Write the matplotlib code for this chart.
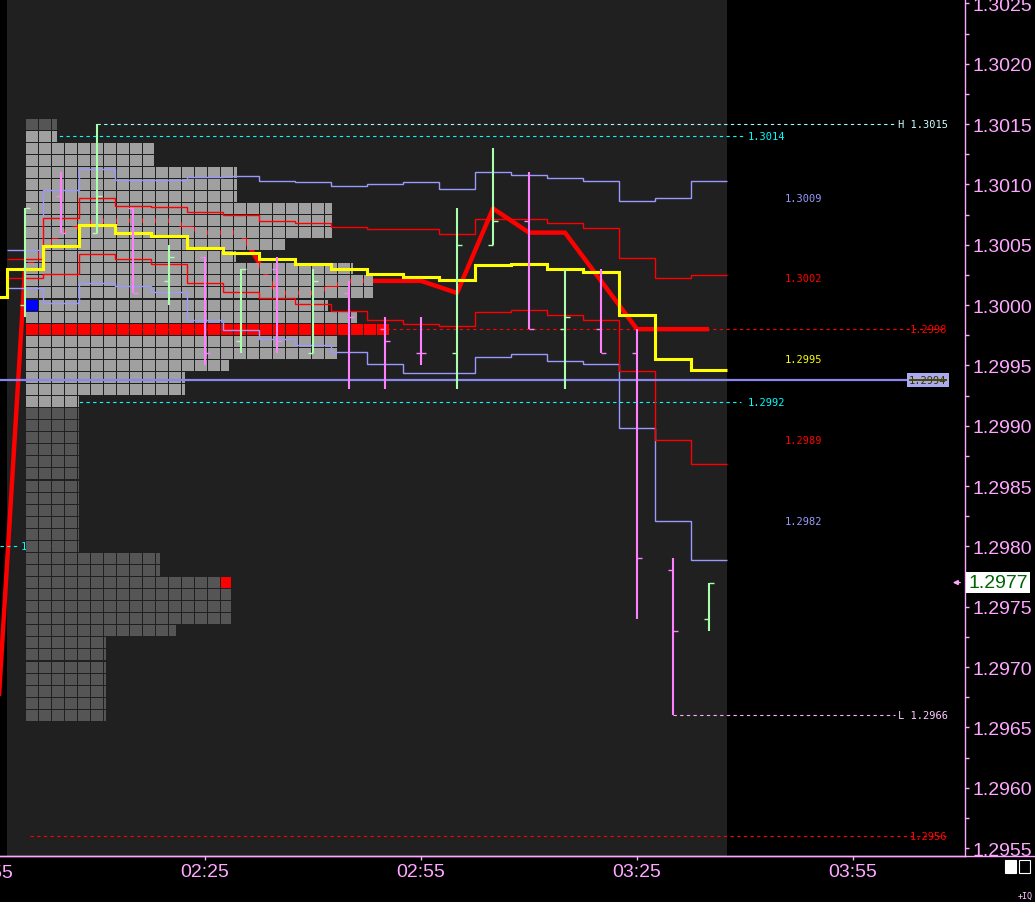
import numpy as np
import matplotlib
matplotlib.use("Agg")
import matplotlib.pyplot as plt
import matplotlib.transforms as mtransforms
from matplotlib.patches import Rectangle
from matplotlib.ticker import FixedLocator, FuncFormatter, MultipleLocator

plt.rcParams['font.family'] = ['Liberation Sans', 'DejaVu Sans']

# ---------------- data ----------------
# 5 minute bars, time as minutes after 00:00 (02:00 .. 03:35)
bar_times = [120, 125, 130, 135, 140, 145, 150, 155, 160, 165,
             170, 175, 180, 185, 190, 195, 200, 205, 210, 215]
opens = [1.3000, 1.3009, 1.3006, 1.3008, 1.3002, 1.3004, 1.2997, 1.3003, 1.2996, 1.3001,
         1.2998, 1.2996, 1.2996, 1.3005, 1.3007, 1.2998, 1.2998, 1.2996, 1.2978, 1.2974]
highs = [1.3008, 1.3011, 1.3015, 1.3008, 1.3005, 1.3004, 1.3003, 1.3004, 1.3003, 1.3002,
         1.2999, 1.2999, 1.3008, 1.3013, 1.3011, 1.3003, 1.3003, 1.2998, 1.2979, 1.2977]
lows = [1.2999, 1.3006, 1.3006, 1.3001, 1.3000, 1.2995, 1.2996, 1.2996, 1.2996, 1.2993,
        1.2993, 1.2995, 1.2993, 1.3005, 1.2998, 1.2993, 1.2996, 1.2974, 1.2966, 1.2973]
closes = [1.3008, 1.3006, 1.3009, 1.3001, 1.3004, 1.2996, 1.3003, 1.2997, 1.3002, 1.2999,
          1.2997, 1.2996, 1.3005, 1.3007, 1.2998, 1.2999, 1.2996, 1.2979, 1.2973, 1.2977]

# vwap and developing poc include the 01:55 bar of the previous session
line_times = [115] + bar_times
vwap = [1.30007, 1.30030, 1.30049, 1.30066, 1.30060, 1.30057, 1.30047, 1.30043, 1.30038,
        1.30034, 1.30030, 1.30026, 1.30023, 1.30021, 1.30033, 1.30034, 1.30030, 1.30027,
        1.29992, 1.29955, 1.29946]
dev_poc = [1.2954, 1.3003, 1.3006, 1.3007, 1.3007, 1.3007, 1.3006, 1.3006, 1.3001, 1.3001,
           1.3002, 1.3002, 1.3002, 1.3001, 1.3008, 1.3006, 1.3006, 1.3002, 1.2998, 1.2998,
           1.2998]

band1_up = [1.30038, 1.30072, 1.30089, 1.30082, 1.30081, 1.30077, 1.30075, 1.30070, 1.30068,
            1.30065, 1.30063, 1.30063, 1.30059, 1.30071, 1.30071, 1.30068, 1.30064, 1.30039,
            1.30022, 1.30025]
band1_dn = [1.30022, 1.30026, 1.30042, 1.30038, 1.30034, 1.30018, 1.30011, 1.30006, 1.30001,
            1.29995, 1.29988, 1.29984, 1.29983, 1.29994, 1.29996, 1.29992, 1.29988, 1.29945,
            1.29888, 1.29868]
band2_up = [1.30046, 1.30095, 1.30113, 1.30104, 1.30104, 1.30106, 1.30107, 1.30103, 1.30102,
            1.30099, 1.30100, 1.30102, 1.30096, 1.30110, 1.30108, 1.30105, 1.30103, 1.30086,
            1.30089, 1.30103]
band2_dn = [1.30014, 1.30002, 1.30018, 1.30016, 1.30011, 1.29988, 1.29979, 1.29972, 1.29967,
            1.29961, 1.29951, 1.29944, 1.29944, 1.29957, 1.29959, 1.29954, 1.29951, 1.29898,
            1.29821, 1.29789]

# market profile: price rows and row length (in boxes)
profile_prices = [1.3015, 1.3014, 1.3013, 1.3012, 1.3011, 1.3010, 1.3009, 1.3008, 1.3007, 1.3006,
                  1.3005, 1.3004, 1.3003, 1.3002, 1.3001, 1.3000, 1.2999, 1.2998, 1.2997, 1.2996,
                  1.2995, 1.2994, 1.2993, 1.2992, 1.2991, 1.2990, 1.2989, 1.2988, 1.2987, 1.2986,
                  1.2985, 1.2984, 1.2983, 1.2982, 1.2981, 1.2980, 1.2979, 1.2978, 1.2977, 1.2976,
                  1.2975, 1.2974, 1.2973, 1.2972, 1.2971, 1.2970, 1.2969, 1.2968, 1.2967, 1.2966]
profile_boxes = [2.38, 2.38, 9.85, 9.85, 16.23, 16.23, 16.23, 23.54, 23.54, 23.54,
                 19.92, 16.15, 25.15, 26.69, 26.69, 23.23, 25.46, 27.92, 23.92, 23.92,
                 15.62, 12.23, 12.23, 4.08, 4.08, 4.08, 4.08, 4.08, 4.08, 4.08,
                 4.08, 4.08, 4.08, 4.08, 4.08, 4.08, 10.31, 10.31, 15.77, 15.77,
                 15.77, 15.77, 11.54, 6.15, 6.15, 6.15, 6.15, 6.15, 6.15, 6.15]
vah, val, poc = 1.3014, 1.2992, 1.2998
open_price = 1.3000
last_price = 1.2977
prev_level = 1.2980
ref_level = 1.29938
red_level = 1.2956

# ---------------- colours ----------------
PINK_AX = '#ffa8ff'
GREEN = '#aaffaa'
PINK = '#ff80ff'
BLUE = '#9999ff'
RED = '#ff0000'
YELLOW = '#ffff00'
CYAN = '#00ffff'
MONO = 'DejaVu Sans Mono'

# ---------------- layout ----------------
PX_PER_MIN = 7.2
T0 = 145 - 205 / PX_PER_MIN


def tx(px):
    return T0 + px / PX_PER_MIN


fig = plt.figure(figsize=(10.35, 9.03), dpi=100, facecolor='black')
ax = fig.add_axes([0, 46 / 903, 965 / 1035, 857 / 903])
ax.set_facecolor('black')
ax.set_xlim(T0, tx(965))
ax.set_ylim(1.295434, 1.302536)

# session background
ax.axvspan(bar_times[0] - 2.5, bar_times[-1] + 2.5, color='#202020', zorder=0, lw=0)

# developing poc (under the profile)
ax.plot(line_times, dev_poc, color=RED, lw=3.2, zorder=2, solid_capstyle='butt')

# levels drawn under the profile
prof_x0 = tx(26)
dash = (0, (3, 3))
ax.hlines(vah, prof_x0, tx(743), colors=CYAN, lw=0.8, linestyles=dash, zorder=2.5)
ax.hlines(val, prof_x0, tx(741), colors=CYAN, lw=0.8, linestyles=dash, zorder=2.5)
ax.hlines(poc, prof_x0, tx(946), colors=RED, lw=0.8, linestyles=dash, zorder=2.5)
ax.hlines(red_level, tx(30), tx(946), colors=RED, lw=0.8, linestyles=dash, zorder=2.5)
ax.hlines(prev_level, T0, tx(18), colors=CYAN, lw=0.8, linestyles=dash, zorder=2.5)
ax.text(tx(21), prev_level, '1.2980', color=CYAN, fontsize=7.5, family=MONO,
        va='center', ha='left', zorder=2.5)

# profile boxes
box_pitch = 13 / PX_PER_MIN
box_fill = 12 / PX_PER_MIN
box_h = 0.0001 * 11 / 12.067
for price, n in zip(profile_prices, profile_boxes):
    in_va = val - 1e-9 <= price <= vah + 1e-9
    base = '#a0a0a0' if in_va else '#555555'
    if abs(price - poc) < 1e-9:
        base = RED
    nb = int(np.ceil(n - 1e-9))
    right = prof_x0 + n * box_pitch
    for i in range(nb):
        left = prof_x0 + i * box_pitch
        w = min(box_fill, right - left)
        c = base
        if i == 0 and abs(price - open_price) < 1e-9:
            c = '#0000ff'
        if i == nb - 1 and abs(price - last_price) < 1e-9:
            c = RED
        ax.add_patch(Rectangle((left, price - box_h / 2), w, box_h, facecolor=c,
                               edgecolor='none', zorder=3, antialiased=False))

# vwap and bands as 5 minute steps
edges_v = [t - 2.5 for t in line_times] + [line_times[-1] + 2.5]
edges_b = [t - 2.5 for t in bar_times] + [bar_times[-1] + 2.5]
ax.stairs(band2_up, edges_b, baseline=None, color=BLUE, lw=1.0, zorder=4)
ax.stairs(band2_dn, edges_b, baseline=None, color=BLUE, lw=1.0, zorder=4)
ax.stairs(band1_up, edges_b, baseline=None, color=RED, lw=1.0, zorder=4)
ax.stairs(band1_dn, edges_b, baseline=None, color=RED, lw=1.0, zorder=4)
ax.stairs(vwap, edges_v, baseline=None, color=YELLOW, lw=2.2, zorder=4.5)

# ohlc bars
tick = 5 / PX_PER_MIN
bar_cols = [GREEN if c > o else PINK for o, c in zip(opens, closes)]
ax.vlines(bar_times, lows, highs, colors=bar_cols, lw=1.5, zorder=5)
ax.hlines(opens, [t - tick for t in bar_times], bar_times, colors=bar_cols, lw=1.0, zorder=5)
ax.hlines(closes, bar_times, [t + tick for t in bar_times], colors=bar_cols, lw=1.0, zorder=5)

# session high / low
hi = max(highs)
lo = min(lows)
t_hi = bar_times[highs.index(hi)]
t_lo = bar_times[lows.index(lo)]
ax.hlines(hi, t_hi, tx(895), colors='#99ffff', lw=0.8, linestyles=dash, zorder=2.5)
ax.text(tx(898), hi, f'H {hi:.4f}', color='#ccffff', fontsize=7.5, family=MONO,
        va='center', ha='left', zorder=6)
ax.hlines(lo, t_lo, tx(895), colors='#ffaaff', lw=0.8, linestyles=dash, zorder=2.5)
ax.text(tx(898), lo, f'L {lo:.4f}', color='#ffccff', fontsize=7.5, family=MONO,
        va='center', ha='left', zorder=6)

# level labels
ax.text(tx(748), vah, f'{vah:.4f}', color=CYAN, fontsize=7.5, family=MONO, va='center', zorder=6)
ax.text(tx(748), val, f'{val:.4f}', color=CYAN, fontsize=7.5, family=MONO, va='center', zorder=6)
ax.text(tx(910), poc, f'{poc:.4f}', color=RED, fontsize=7.5, family=MONO, va='center', zorder=6)
ax.text(tx(910), red_level, f'{red_level:.4f}', color=RED, fontsize=7.5, family=MONO,
        va='center', zorder=6)

# band end labels (value of the previous bar)
for series, col in [(band2_up, BLUE), (band1_up, RED), (vwap[1:], YELLOW),
                    (band1_dn, RED), (band2_dn, BLUE)]:
    v = series[-2]
    ax.text(tx(785), v, f'{v:.4f}', color=col, fontsize=7.5, family=MONO,
            va='center', ha='left', zorder=6)

# reference line with its label
ax.hlines(ref_level, T0, tx(908), colors='#8888ee', lw=1.6, zorder=4.6)
ax.text(tx(909), ref_level, f'{ref_level:.4f}', color='#333300', fontsize=7.5, family=MONO,
        va='center', ha='left', zorder=6,
        bbox=dict(boxstyle='square,pad=0.2', fc='#aaaaee', ec='none'))
ax.hlines(ref_level, tx(909), tx(947), colors='#4a4a00', lw=1.4, zorder=7)

# ---------------- axes ----------------
for s in ['top', 'left']:
    ax.spines[s].set_visible(False)
for s in ['right', 'bottom']:
    ax.spines[s].set_color(PINK_AX)
    ax.spines[s].set_linewidth(1.0)

ax.yaxis.tick_right()
ax.yaxis.set_major_locator(MultipleLocator(0.0005))
ax.yaxis.set_minor_locator(MultipleLocator(0.00025))
ax.yaxis.set_major_formatter(FuncFormatter(lambda v, _: f'{v:.4f}'))
ax.tick_params(axis='y', which='both', direction='out', length=2.6, width=1,
               colors=PINK_AX, labelsize=14, pad=2.5)

x_ticks = [145, 175, 205, 235]


def hhmm(v, _=None):
    v = int(round(v))
    return f'{v // 60:02d}:{v % 60:02d}'


ax.xaxis.set_major_locator(FixedLocator(x_ticks))
ax.xaxis.set_major_formatter(FuncFormatter(hhmm))
ax.tick_params(axis='x', direction='out', length=3, width=1, colors=PINK_AX,
               labelsize=14, pad=2)
ax.text(115, -0.009, hhmm(115), transform=mtransforms.blended_transform_factory(
    ax.transData, ax.transAxes), color=PINK_AX, fontsize=14, ha='center', va='top',
    clip_on=False)

# bottom line across the whole figure
fig.add_artist(plt.Line2D([0, 1], [46 / 903, 46 / 903], color=PINK_AX, lw=1.0,
                          transform=fig.transFigure))

# current price marker
trans_fy = mtransforms.blended_transform_factory(fig.transFigure, ax.transData)
ax.text(968 / 1035, last_price, f'{last_price:.4f}', transform=trans_fy, color='#006400',
        fontsize=14, va='center', ha='left', zorder=8, clip_on=False,
        bbox=dict(boxstyle='square,pad=0.1', fc='white', ec='none'))
ax.annotate('', xy=(tx(950), last_price), xytext=(tx(963), last_price),
            arrowprops=dict(arrowstyle='-|>', color=PINK_AX, lw=1, mutation_scale=7),
            annotation_clip=False, zorder=8)

# small icons at bottom right
fig.add_artist(Rectangle((1005 / 1035, 1 - 874 / 903), 11 / 1035, 13 / 903,
                         transform=fig.transFigure, fc='white', ec='white', lw=0.8))
fig.add_artist(Rectangle((1019 / 1035, 1 - 874 / 903), 11 / 1035, 13 / 903,
                         transform=fig.transFigure, fc='none', ec='white', lw=0.8))
fig.text(1033 / 1035, 1 - 896 / 903, '+IQ', color='#ffccff', fontsize=6, family=MONO,
         ha='right', va='center')

fig.savefig('out.png', dpi=100, facecolor='black')
